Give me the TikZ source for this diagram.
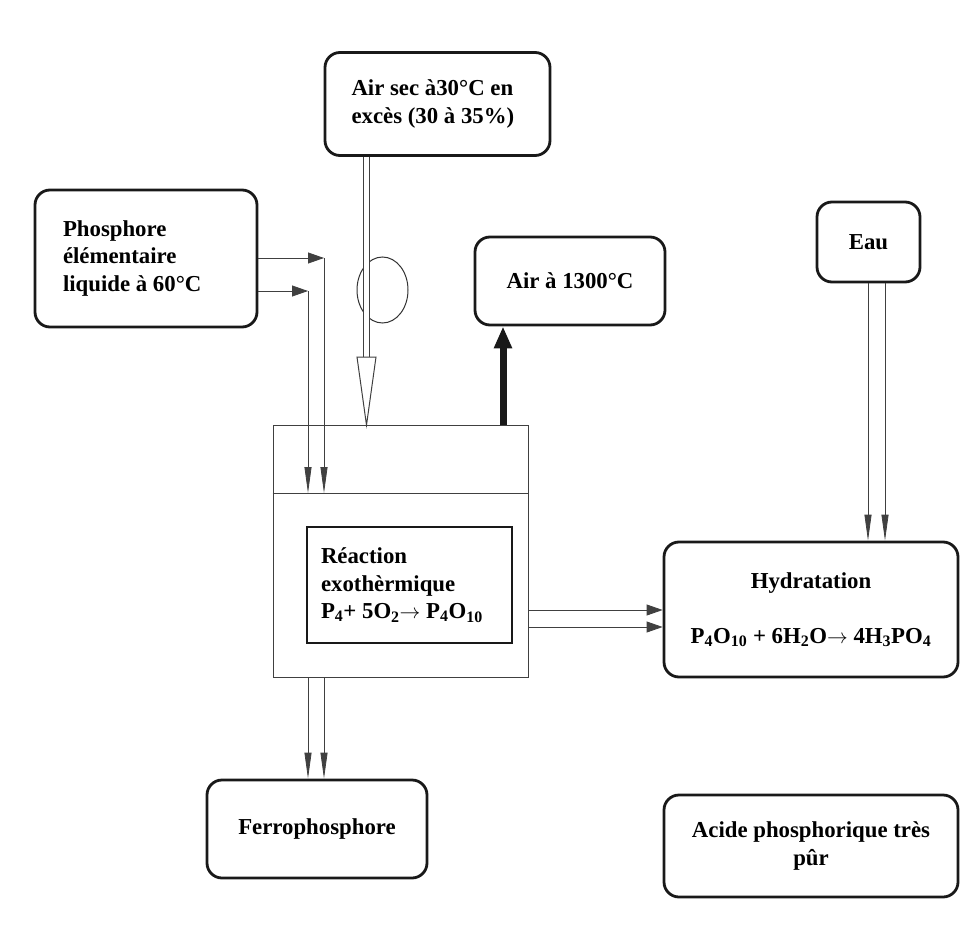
\documentclass[tikz,border=0pt]{standalone}
\usepackage{fontspec}
\setmainfont{Liberation Serif}
\usetikzlibrary{arrows.meta,shapes.geometric}

\begin{document}
\begin{tikzpicture}[x=1pt, y=-1pt,
  box node/.style={draw=black!90, line width=2.8pt, rounded corners=15pt, inner sep=0pt},
  flow/.style={draw=black!75, line width=0.8pt, -{Triangle[length=16pt,width=11pt]}},
  drop/.style={draw=black!75, line width=0.8pt, -{Triangle[length=26pt,width=7pt]}}]
\useasboundingbox (0,0) rectangle (961,939);
\begin{scope}[every node/.style={font=\fontsize{22.8pt}{27.5pt}\selectfont\bfseries}]
\node[box node, minimum width=225pt, minimum height=103pt, text width=172pt, align=flush left] (air) at (437.5,104) {Air sec à30°C en\\excès (30 à 35\%)};
\node[box node, minimum width=222pt, minimum height=137pt, text width=166pt, align=flush left] (phos) at (146,258.5) {Phosphore\\élémentaire\\liquide à 60°C};
\node[box node, minimum width=190pt, minimum height=88pt] (hot) at (570,281) {Air à 1300°C};
\node[box node, minimum width=103pt, minimum height=80pt] (eau) at (868.5,242) {Eau};
\node[box node, minimum width=294pt, minimum height=135pt, align=center] (hyd) at (811,609.5) {Hydratation\\[27.5pt]P\textsubscript{4}O\textsubscript{10} + 6H\textsubscript{2}O$\rightarrow$ 4H\textsubscript{3}PO\textsubscript{4}};
\node[box node, minimum width=220pt, minimum height=98pt] (ferro) at (317,829) {Ferrophosphore};
\node[box node, minimum width=294pt, minimum height=102pt, text width=250pt, align=flush center] (acide) at (811,846) {Acide phosphorique très\\pûr};
% four
\node[draw=black!75, line width=0.8pt, minimum width=255pt, minimum height=252pt] (reactor) at (400.5,551.5) {};
\node[draw=black!90, line width=1.6pt, minimum width=205pt, minimum height=116pt, text width=177pt, align=flush left] (reaction) at (409.5,585) {Réaction\\exothèrmique\\P\textsubscript{4}+ 5O\textsubscript{2}$\rightarrow$ P\textsubscript{4}O\textsubscript{10}};
\node[draw=black!80, line width=1pt, ellipse, minimum width=51pt, minimum height=66pt] (valve) at (382.5,290) {};
\end{scope}
\coordinate (div) at (0,493);
\coordinate (pA) at (324,258);
\coordinate (pB) at (308,291);
\coordinate (airX) at (366.5,357);
\coordinate (hotX) at (503,0);
\coordinate (h1) at (0,610);
\coordinate (h2) at (0,627);
\coordinate (e1) at (868,0);
\coordinate (e2) at (885,0);
\begin{scope}
\draw[draw=black!75, line width=0.8pt] (reactor.west |- div) -- (reactor.east |- div);
\draw[flow] (phos.east |- pA) -- (pA);
\draw[flow] (phos.east |- pB) -- (pB);
\draw[drop] (pA) -- (pA |- div);
\draw[drop] (pB) -- (pB |- div);
\draw[double=white, double distance=5pt, line width=1pt, draw=black!75] (air.south -| airX) -- (airX);
\draw[draw=black!75, line width=1pt, fill=white] ([xshift=-9.5pt]airX) -- (airX |- reactor.north) -- ([xshift=9.5pt]airX) -- cycle;
\draw[draw=black!90, line width=7pt, -{Triangle[length=22pt,width=17pt]}] (reactor.north -| hotX) -- (hot.south -| hotX);
\draw[drop] (reactor.south -| pA) -- (ferro.north -| pA);
\draw[drop] (reactor.south -| pB) -- (ferro.north -| pB);
\draw[flow] (reactor.east |- h1) -- (hyd.west |- h1);
\draw[flow] (reactor.east |- h2) -- (hyd.west |- h2);
\draw[drop] (eau.south -| e1) -- (hyd.north -| e1);
\draw[drop] (eau.south -| e2) -- (hyd.north -| e2);
\end{scope}
\end{tikzpicture}
\end{document}
